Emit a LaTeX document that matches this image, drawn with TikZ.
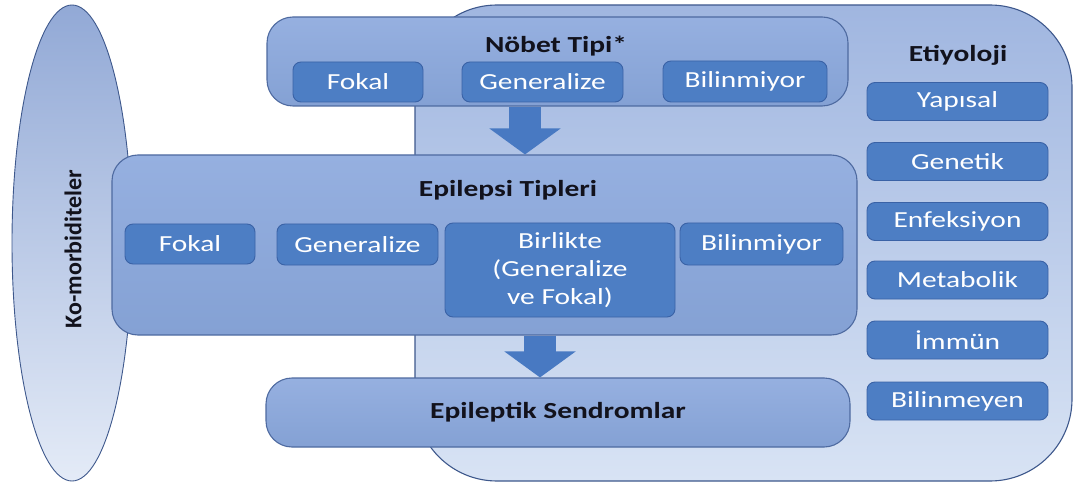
\documentclass[tikz,border=0pt]{standalone}
\usepackage{fontspec}
\setmainfont{Carlito}[FakeStretch=1.28]
\newfontfamily\plainfont{Carlito}
\usetikzlibrary{arrows.meta,shapes.geometric}
\definecolor{bgTop}{RGB}{160,182,224}
\definecolor{bgBot}{RGB}{216,227,244}
\definecolor{bgLine}{RGB}{62,88,140}
\definecolor{elTop}{RGB}{146,169,214}
\definecolor{elBot}{RGB}{228,235,247}
\definecolor{contTop}{RGB}{150,176,224}
\definecolor{contBot}{RGB}{132,161,212}
\definecolor{contLine}{RGB}{78,106,160}
\definecolor{subFill}{RGB}{77,126,196}
\definecolor{subLine}{RGB}{58,98,166}
\definecolor{arrFill}{RGB}{72,121,194}
\definecolor{titleCol}{RGB}{18,18,28}
\tikzset{
  container/.style={rectangle, draw=contLine, line width=1.1pt, top color=contTop, bottom color=contBot, rounded corners=26pt, inner sep=0pt},
  subbox/.style={rectangle, draw=subLine, line width=0.9pt, fill=subFill, rounded corners=8pt, inner sep=0pt, text=white, font=\fontsize{23}{28}\selectfont, align=center},
  titletext/.style={inner sep=0pt, text=titleCol, font=\fontsize{23}{28}\selectfont\bfseries},
  flowarrow/.style={draw=arrFill, line width=32pt, line cap=butt, -{Triangle[width=70pt,length=26pt]}},
}
\begin{document}
\begin{tikzpicture}[x=1pt,y=-1pt]
\useasboundingbox (0,0) rectangle (1075,486);
% etiology background
\shade[top color=bgTop, bottom color=bgBot, draw=bgLine, line width=1.1pt, rounded corners=82pt] (415,5) rectangle (1072,481);
% ellipse
\node[ellipse, draw=bgLine, line width=0.9pt, top color=elTop, bottom color=elBot, minimum width=120pt, minimum height=476pt, inner sep=0pt] (ko) at (72,243) {};
\node[rotate=90, inner sep=0pt, text=titleCol, font=\plainfont\fontsize{24}{28}\selectfont\bfseries] (kotext) at (73,249) {Ko-morbiditeler};
% containers
\node[container, minimum width=581pt, minimum height=89pt] (nobet) at (557.5,61.5) {};
\node[container, minimum width=745pt, minimum height=180pt] (epi) at (484.5,245) {};
\node[container, minimum width=584pt, minimum height=69pt, text=titleCol, font=\fontsize{23}{28}\selectfont\bfseries] (sendrom) at (558,412.5) {Epileptik Sendromlar};
% arrows
\coordinate (a1) at (525,0);
\coordinate (a2) at (540,0);
\draw[flowarrow] (nobet.south -| a1) -- (epi.north -| a1);
\draw[flowarrow] (epi.south -| a2) -- (sendrom.north -| a2);
% titles
\node[titletext] (nobettitle) at (556,46) {Nöbet Tipi*};
\node[titletext] (epititle) at (508,190) {Epilepsi Tipleri};
\node[titletext] (etititle) at (958,55) {Etiyoloji};
% seizure types
\node[subbox, minimum width=130pt, minimum height=40pt] (nfokal) at (358,82) {Fokal};
\node[subbox, minimum width=161pt, minimum height=40pt] (ngen) at (542.5,82) {Generalize};
\node[subbox, minimum width=164pt, minimum height=41pt] (nbil) at (745,81.5) {Bilinmiyor};
% epilepsy types
\node[subbox, minimum width=130pt, minimum height=40pt] (efokal) at (190,244) {Fokal};
\node[subbox, minimum width=161pt, minimum height=41pt] (egen) at (357.5,244.5) {Generalize};
\node[subbox, minimum width=230pt, minimum height=94pt] (ebir) at (560,270) {Birlikte\\(Generalize\\ve Fokal)};
\node[subbox, minimum width=163pt, minimum height=42pt] (ebil) at (761.5,244) {Bilinmiyor};
% etiology
\node[subbox, minimum width=181pt, minimum height=38pt] (yap) at (957.5,101.5) {Yapısal};
\node[subbox, minimum width=181pt, minimum height=38pt] (gen) at (957.5,161.5) {Genetik};
\node[subbox, minimum width=181pt, minimum height=38pt] (enf) at (957.5,221.5) {Enfeksiyon};
\node[subbox, minimum width=181pt, minimum height=38pt] (met) at (957.5,280) {Metabolik};
\node[subbox, minimum width=181pt, minimum height=38pt] (imm) at (957.5,340) {İmmün};
\node[subbox, minimum width=181pt, minimum height=38pt] (bilm) at (957.5,401) {Bilinmeyen};
\end{tikzpicture}
\end{document}
